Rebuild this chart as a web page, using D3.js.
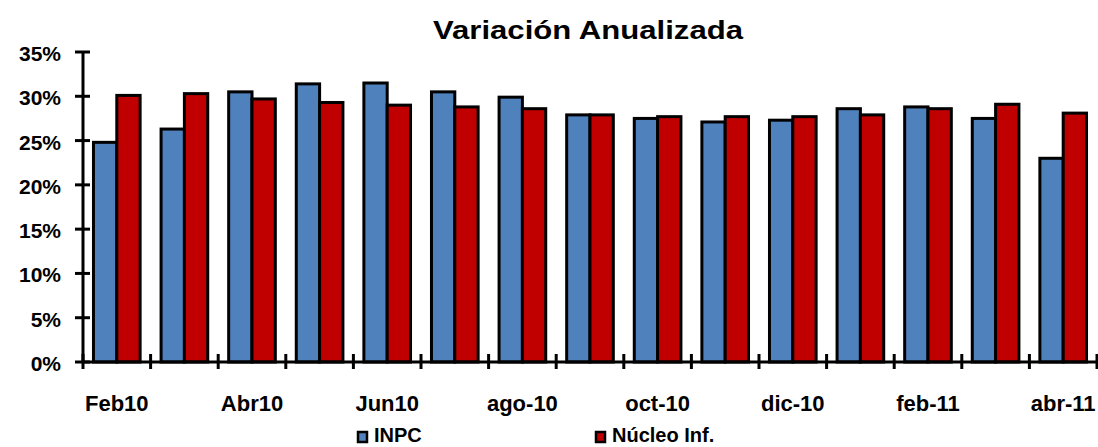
<!DOCTYPE html>
<html><head><meta charset="utf-8">
<script src="https://cdn.jsdelivr.net/npm/d3@7"></script>
<style>body{margin:0;background:#fff}svg{display:block}text{font-family:"Liberation Sans",Arial,sans-serif;font-weight:bold;fill:#000}</style>
</head><body>
<svg id="c" width="1098" height="447"></svg>
<script>
const categories = ["Feb10","Mar10","Abr10","May10","Jun10","Jul10","ago-10","sep-10","oct-10","nov-10","dic-10","ene-11","feb-11","mar-11","abr-11"];
const inpc = [24.8,26.3,30.5,31.4,31.5,30.5,29.9,27.9,27.5,27.1,27.3,28.6,28.8,27.5,23.0];
const nucleo = [30.1,30.3,29.7,29.3,29.0,28.8,28.6,27.9,27.7,27.7,27.7,27.9,28.6,29.1,28.1];
const yTicks = [0,5,10,15,20,25,30,35];
const seriesNames = ["INPC","Núcleo Inf."];
const colors = ["#4F81BD","#C00000"];

const svg = d3.select("#c");
const m = {l:83, r:1097, t:52, b:362};
const x = d3.scaleBand().domain(categories).range([m.l, m.r]).paddingInner(0.31).paddingOuter(0.155);
const xs = d3.scaleBand().domain([0,1]).range([0, x.bandwidth()]);
const y = d3.scaleLinear().domain([0,35]).range([m.b, m.t]);

svg.append("text").attr("x",588).attr("y",39).attr("text-anchor","middle").style("font-size","25px")
  .attr("textLength",310).attr("lengthAdjust","spacingAndGlyphs").text("Variación Anualizada");

const g = svg.append("g");
categories.forEach((c,i)=>{
  [inpc[i], nucleo[i]].forEach((v,k)=>{
    g.append("rect").attr("x", x(c)+xs(k)).attr("width", xs.bandwidth())
      .attr("y", y(v)).attr("height", y(0)-y(v))
      .attr("fill", colors[k]).attr("stroke","#000").attr("stroke-width",3);
  });
});

// y axis
const ya = svg.append("g");
ya.append("line").attr("x1",m.l).attr("x2",m.l).attr("y1",y(35)).attr("y2",y(0)).attr("stroke","#000").attr("stroke-width",3);
yTicks.forEach(t=>{
  ya.append("line").attr("x1",m.l-8).attr("x2",m.l+7).attr("y1",y(t)).attr("y2",y(t)).attr("stroke","#000").attr("stroke-width",3);
  ya.append("text").attr("x",61).attr("y",y(t)+9).attr("text-anchor","end").style("font-size","21px").text(t+"%");
});
// x axis
const xa = svg.append("g");
xa.append("line").attr("x1",m.l).attr("x2",m.r).attr("y1",y(0)).attr("y2",y(0)).attr("stroke","#000").attr("stroke-width",3);
for(let i=0;i<=categories.length;i++){
  const xp = m.l + i*(m.r-m.l)/categories.length;
  xa.append("line").attr("x1",xp).attr("x2",xp).attr("y1",y(0)-8).attr("y2",y(0)+7).attr("stroke","#000").attr("stroke-width",3);
}
categories.forEach((c,i)=>{
  if(i%2===0) xa.append("text").attr("x",x(c)+x.bandwidth()/2).attr("y",411).attr("text-anchor","middle").style("font-size","22px").text(c);
});

// legend
const lx = [358, 596];
seriesNames.forEach((n,k)=>{
  svg.append("rect").attr("x",lx[k]).attr("y",432).attr("width",9).attr("height",10).attr("fill",colors[k]).attr("stroke","#000").attr("stroke-width",2.5);
  svg.append("text").attr("x",lx[k]+16).attr("y",442).style("font-size","20px").text(n);
});
</script>
</body></html>
